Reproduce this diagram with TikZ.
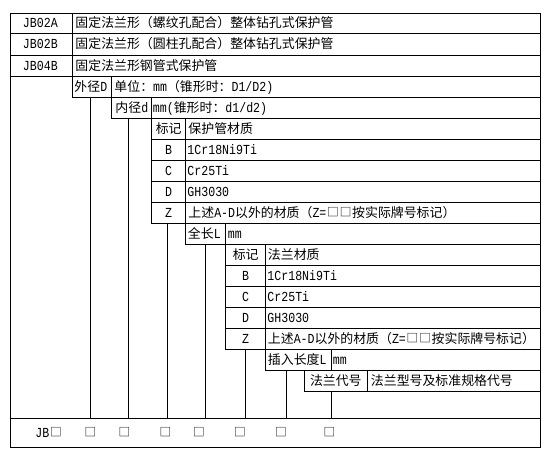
\documentclass[tikz,border=0pt]{standalone}
\usepackage{fontspec}
\setmainfont{Noto Sans CJK SC}
\newfontfamily\latf{Liberation Mono}[FakeStretch=0.84]
\newcommand\latn[1]{{\latf\fontsize{13.8}{14}\selectfont #1}}
\newcommand\sqbox{\makebox[12.9pt][c]{\raisebox{0.8pt}{\fontsize{11.6}{12}\selectfont □}}}
\begin{document}
\begin{tikzpicture}[x=1pt,y=-1pt,line width=0.9pt,line cap=rect,
  tl/.style={anchor=base west,inner sep=0pt,font=\fontsize{12.9}{14}\selectfont},
  tc/.style={anchor=base,inner sep=0pt,font=\fontsize{12.9}{14}\selectfont}]
\useasboundingbox (0,0) rectangle (553,460);
% frame and rules
\draw (10.3,13.3) rectangle (540,447.3);
\foreach \y in {33.7,55,76.3,418.3} \draw (10.3,\y) -- (540,\y);
\draw (72.3,97.7) -- (540,97.7);
\draw (111.3,118.3) -- (540,118.3);
\foreach \y in {139.3,160.7,181.3,202,223.3} \draw (151,\y) -- (540,\y);
\draw (185.7,244) -- (540,244);
\foreach \y in {265,286,307.7,328.3,349.7} \draw (225.7,\y) -- (540,\y);
\draw (265.7,370) -- (540,370);
\draw (304.3,391.7) -- (540,391.7);
\draw (72.3,13.3) -- (72.3,97.7);
\draw (111.3,76.3) -- (111.3,118.3);
\draw (90.7,97.7) -- (90.7,418.3);
\draw (151,97.7) -- (151,223.3);
\draw (128.7,118.3) -- (128.7,418.3);
\draw (185.7,118.3) -- (185.7,244);
\draw (167.3,223.3) -- (167.3,418.3);
\draw (225.7,223.3) -- (225.7,349.7);
\draw (205.3,244) -- (205.3,418.3);
\draw (265.7,244) -- (265.7,370);
\draw (245.7,349.7) -- (245.7,418.3);
\draw (331,349.7) -- (331,370);
\draw (331,391.7) -- (331,418.3);
\draw (304.3,370) -- (304.3,391.7);
\draw (367.3,370) -- (367.3,391.7);
\draw (286.7,370) -- (286.7,418.3);
% texts
\node[tl] (a1) at (22.5,28) {\latn{JB02A}};
\node[tl] (a2) at (22.5,48.8) {\latn{JB02B}};
\node[tl] (a3) at (22.5,70.1) {\latn{JB04B}};
\node[tl] (b1) at (75,28) {固定法兰形（螺纹孔配合）整体钻孔式保护管};
\node[tl] (b2) at (75,48.8) {固定法兰形（圆柱孔配合）整体钻孔式保护管};
\node[tl] (b3) at (75,70.1) {固定法兰形钢管式保护管};
\node[tl] (od) at (74,91.5) {外径\latn{D}};
\node[tl] (odt) at (114,91.5) {单位：\latn{mm}（锥形时：\latn{D1/D2)}};
\node[tl] (id) at (115,112.5) {内径\latn{d}};
\node[tl] (idt) at (152.5,112.5) {\latn{mm(}锥形时：\latn{d1/d2)}};
\node[tc] (m1) at (168.7,133.3) {标记};
\node[tl] (m1t) at (188,133.3) {保护管材质};
\node[tc] (m1b) at (168.7,154.5) {\latn{B}};
\node[tl] (m1bt) at (187,154.5) {\latn{1Cr18Ni9Ti}};
\node[tc] (m1c) at (168.7,175.5) {\latn{C}};
\node[tl] (m1ct) at (187,175.5) {\latn{Cr25Ti}};
\node[tc] (m1d) at (168.7,196.1) {\latn{D}};
\node[tl] (m1dt) at (187,196.1) {\latn{GH3030}};
\node[tc] (m1z) at (168.7,217.1) {\latn{Z}};
\node[tl] (m1zt) at (188,217.1) {上述\latn{A-D}以外的材质（\latn{Z=}\sqbox\sqbox 按实际牌号标记）};
\node[tl] (len) at (187.5,238.1) {全长\latn{L}};
\node[tl] (lent) at (227.5,238.1) {\latn{mm}};
\node[tc] (m2) at (245.7,259) {标记};
\node[tl] (m2t) at (267.5,259) {法兰材质};
\node[tc] (m2b) at (245.7,280) {\latn{B}};
\node[tl] (m2bt) at (267,280) {\latn{1Cr18Ni9Ti}};
\node[tc] (m2c) at (245.7,301.3) {\latn{C}};
\node[tl] (m2ct) at (267,301.3) {\latn{Cr25Ti}};
\node[tc] (m2d) at (245.7,322.5) {\latn{D}};
\node[tl] (m2dt) at (267,322.5) {\latn{GH3030}};
\node[tc] (m2z) at (245.7,343.5) {\latn{Z}};
\node[tl] (m2zt) at (267.5,343.5) {上述\latn{A-D}以外的材质（\latn{Z=}\sqbox\sqbox 按实际牌号标记）};
\node[tl] (ins) at (267.5,364.3) {插入长度\latn{L}};
\node[tl] (inst) at (332.5,364.3) {\latn{mm}};
\node[tc] (fl) at (335.8,385.3) {法兰代号};
\node[tl] (flt) at (370.5,385.3) {法兰型号及标准规格代号};
% code line
\node[tl] (jb) at (35,437.3) {\latn{JB}\sqbox};
\node[tc] (s1) at (90.5,437.3) {\sqbox};
\node[tc] (s2) at (124.5,437.3) {\sqbox};
\node[tc] (s3) at (165.5,437.3) {\sqbox};
\node[tc] (s4) at (199,437.3) {\sqbox};
\node[tc] (s5) at (240,437.3) {\sqbox};
\node[tc] (s6) at (281,437.3) {\sqbox};
\node[tc] (s7) at (329.5,437.3) {\sqbox};
\end{tikzpicture}
\end{document}
